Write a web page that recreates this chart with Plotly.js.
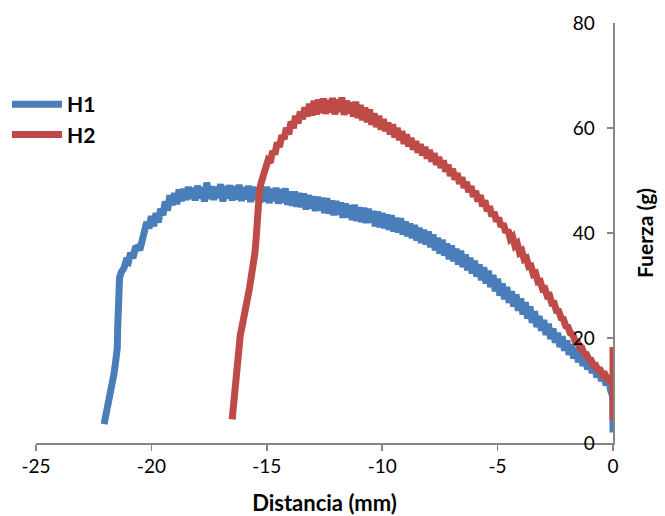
<!DOCTYPE html>
<html>
<head>
<meta charset="utf-8">
<script src="https://cdn.plot.ly/plotly-3.0.1.min.js"></script>
<style>html,body{margin:0;padding:0;background:#fff;}#chart{width:665px;height:516px;}</style>
</head>
<body>
<div id="chart"></div>
<script>
// ---- Data ----
const h1X = [-22.05,-21.98,-21.9,-21.82,-21.72,-21.62,-21.55,-21.48,-21.46,-21.44,-21.42,-21.38,-21.3,-21.2,-21.1,-21.0,-20.9,-20.8,-20.7,-20.6,-20.5,-20.4,-20.3,-20.2,-20.1,-20.0,-19.9,-19.8,-19.7,-19.6,-19.5,-19.4,-19.3,-19.2,-19.1,-19.0,-18.9,-18.8,-18.7,-18.6,-18.5,-18.4,-18.3,-18.2,-18.1,-18.0,-17.9,-17.8,-17.7,-17.6,-17.5,-17.4,-17.3,-17.2,-17.1,-17.0,-16.9,-16.8,-16.7,-16.6,-16.5,-16.4,-16.3,-16.2,-16.1,-16.0,-15.9,-15.8,-15.7,-15.6,-15.5,-15.4,-15.3,-15.2,-15.1,-15.0,-14.9,-14.8,-14.7,-14.6,-14.5,-14.4,-14.3,-14.2,-14.1,-14.0,-13.9,-13.8,-13.7,-13.6,-13.5,-13.4,-13.3,-13.2,-13.1,-13.0,-12.9,-12.8,-12.7,-12.6,-12.5,-12.4,-12.3,-12.2,-12.1,-12.0,-11.9,-11.8,-11.7,-11.6,-11.5,-11.4,-11.3,-11.2,-11.1,-11.0,-10.9,-10.8,-10.7,-10.6,-10.5,-10.4,-10.3,-10.2,-10.1,-10.0,-9.9,-9.8,-9.7,-9.6,-9.5,-9.4,-9.3,-9.2,-9.1,-9.0,-8.9,-8.8,-8.7,-8.6,-8.5,-8.4,-8.3,-8.2,-8.1,-8.0,-7.9,-7.8,-7.7,-7.6,-7.5,-7.4,-7.3,-7.2,-7.1,-7.0,-6.9,-6.8,-6.7,-6.6,-6.5,-6.4,-6.3,-6.2,-6.1,-6.0,-5.9,-5.8,-5.7,-5.6,-5.5,-5.4,-5.3,-5.2,-5.1,-5.0,-4.9,-4.8,-4.7,-4.6,-4.5,-4.4,-4.3,-4.2,-4.1,-4.0,-3.9,-3.8,-3.7,-3.6,-3.5,-3.4,-3.3,-3.2,-3.1,-3.0,-2.9,-2.8,-2.7,-2.6,-2.5,-2.4,-2.3,-2.2,-2.1,-2.0,-1.9,-1.8,-1.7,-1.6,-1.5,-1.4,-1.3,-1.2,-1.1,-1.0,-0.9,-0.8,-0.7,-0.6,-0.5,-0.4,-0.3,-0.2,-0.1,-0.02,0,0,0];
const h1Y = [3.6,5.0,6.8,8.5,10.5,13.2,15.5,18.0,22,26,29.5,31.5,32.6,33.2,34.6,34.4,36.2,35.2,37.1,37.3,36.8,38.9,40.5,42.1,40.9,43.2,41.3,43.8,42.0,44.6,43.4,46.0,44.3,47.2,45.3,47.6,45.5,48.3,46.1,48.4,46.3,48.8,46.5,48.6,46.2,49.0,46.6,48.7,46.0,49.6,46.5,48.9,46.3,48.8,46.7,49.3,46.0,48.9,46.6,49.1,46.2,48.9,46.4,49.2,46.1,48.7,46.4,49.0,45.9,48.8,46.3,48.6,45.8,48.7,46.0,48.8,45.7,48.4,46.1,48.6,45.6,48.3,45.8,48.5,45.4,47.9,45.2,47.9,45.0,47.6,44.9,47.5,44.5,47.2,44.7,47.0,44.2,46.9,44.3,46.7,43.8,46.6,43.7,46.2,43.4,46.1,43.5,45.8,42.9,45.6,43.0,45.3,42.5,45.4,42.3,44.9,42.1,44.8,41.9,44.6,42.0,44.2,41.3,44.1,41.1,43.8,40.9,43.5,40.6,43.4,40.3,42.9,40.1,42.8,39.7,42.2,39.4,41.8,39.0,41.5,38.6,41.0,38.1,40.6,37.8,40.3,37.3,39.7,36.7,39.1,36.1,38.7,35.7,38.0,35.0,37.6,34.6,37.0,34.0,36.6,33.5,35.9,32.9,35.3,32.3,34.7,31.7,34.0,31.0,33.5,30.4,32.8,29.7,32.0,28.9,31.3,28.1,30.4,27.4,29.7,26.7,28.9,26.0,28.3,25.2,27.5,24.5,26.8,23.7,26.0,22.9,25.1,22.1,24.2,21.4,23.4,20.6,22.7,19.8,21.8,19.1,21.0,18.3,20.3,17.6,19.5,16.8,18.8,16.1,18.0,15.4,17.2,14.7,16.5,14.0,15.7,13.3,15.0,12.5,14.2,11.8,13.3,11.0,12.2,10.0,9.0,7.5,5.0,2.0];

const h2X = [-16.5,-16.45,-16.4,-16.35,-16.3,-16.22,-16.15,-16.08,-16.0,-15.92,-15.85,-15.75,-15.68,-15.6,-15.52,-15.46,-15.42,-15.38,-15.32,-15.25,-15.15,-15.05,-14.95,-14.85,-14.75,-14.65,-14.55,-14.45,-14.35,-14.25,-14.15,-14.05,-13.95,-13.85,-13.75,-13.65,-13.55,-13.45,-13.35,-13.25,-13.15,-13.05,-12.95,-12.85,-12.75,-12.65,-12.55,-12.45,-12.35,-12.25,-12.15,-12.05,-11.95,-11.85,-11.75,-11.65,-11.55,-11.45,-11.35,-11.25,-11.15,-11.05,-10.95,-10.85,-10.75,-10.65,-10.55,-10.45,-10.35,-10.25,-10.15,-10.05,-9.95,-9.85,-9.75,-9.65,-9.55,-9.45,-9.35,-9.25,-9.15,-9.05,-8.95,-8.85,-8.75,-8.65,-8.55,-8.45,-8.35,-8.25,-8.15,-8.05,-7.95,-7.85,-7.75,-7.65,-7.55,-7.45,-7.35,-7.25,-7.15,-7.05,-6.95,-6.85,-6.75,-6.65,-6.55,-6.45,-6.35,-6.25,-6.15,-6.05,-5.95,-5.85,-5.75,-5.65,-5.55,-5.45,-5.35,-5.25,-5.15,-5.05,-4.95,-4.85,-4.75,-4.65,-4.55,-4.45,-4.35,-4.25,-4.15,-4.05,-3.95,-3.85,-3.75,-3.65,-3.55,-3.45,-3.35,-3.25,-3.15,-3.05,-2.95,-2.85,-2.75,-2.65,-2.55,-2.45,-2.35,-2.25,-2.15,-2.05,-1.95,-1.85,-1.75,-1.65,-1.55,-1.45,-1.35,-1.25,-1.15,-1.05,-0.95,-0.85,-0.75,-0.65,-0.55,-0.45,-0.35,-0.25,-0.15,-0.05,0,0,0];
const h2Y = [4.5,7,9.5,12.5,15.5,18.5,20.5,22.0,23.5,25.5,27.0,29.5,31.5,33.5,36.0,39.0,42.5,45.5,48.0,49.5,51.0,52.2,53.8,53.4,55.6,55.0,57.2,56.4,58.6,57.9,60.0,58.8,61.2,60.0,62.3,60.9,63.1,61.7,63.9,62.2,64.6,62.4,65.2,62.6,65.4,62.9,65.6,62.7,65.3,63.0,65.7,62.6,65.4,63.1,65.8,62.5,65.2,62.8,64.9,62.2,65.0,61.9,64.4,61.5,63.9,61.1,63.5,60.6,62.8,60.2,62.3,59.7,61.7,59.4,61.0,58.8,60.7,58.2,60.0,57.7,59.4,57.0,58.8,56.5,58.1,55.9,57.5,55.3,56.9,54.8,56.4,54.2,55.8,53.6,55.2,53.0,54.5,52.4,53.8,51.7,53.0,50.9,52.2,50.2,51.4,49.4,50.6,48.6,49.7,47.8,48.9,46.9,48.0,46.0,47.2,45.1,46.2,44.2,45.1,43.2,44.0,42.2,42.9,41.2,41.8,40.1,40.6,38.9,39.3,37.6,38.0,36.3,36.6,35.0,35.2,33.6,33.7,32.1,32.3,30.7,30.8,29.3,29.4,28.0,28.1,26.6,26.6,25.2,25.1,23.8,23.6,22.3,22.1,20.9,20.7,19.5,19.4,18.2,18.1,17.0,16.9,15.9,15.8,14.8,14.8,13.9,13.9,13.0,13.1,12.2,12.3,11.4,11.0,18.3,4.4];

const seriesNames = ['H1', 'H2'];
const xTickVals = [-25, -20, -15, -10, -5, 0];
const xTickText = ['-25', '-20', '-15', '-10', '-5', '0'];
const yTickVals = [0, 20, 40, 60, 80];
const yTickText = ['0', '20', '40', '60', '80'];
const xTitle = 'Distancia (mm)';
const yTitle = 'Fuerza (g)';

const FONT = 'Lato, "Open Sans", "DejaVu Sans", sans-serif';
const AXIS_COLOR = '#868686';

const traces = [
  {x: h1X, y: h1Y, name: '<b>' + seriesNames[0] + '</b>', type: 'scatter', mode: 'lines',
   line: {color: '#4A7EBB', width: 7}},
  {x: h2X, y: h2Y, name: '<b>' + seriesNames[1] + '</b>', type: 'scatter', mode: 'lines',
   line: {color: '#BE4B48', width: 7}}
];

const layout = {
  width: 665, height: 516,
  margin: {l: 36, r: 52, t: 23, b: 73, pad: 0, autoexpand: false},
  paper_bgcolor: '#ffffff', plot_bgcolor: '#ffffff',
  font: {family: FONT, color: '#000000', size: 19},
  showlegend: true,
  legend: {xref: 'container', yref: 'container', x: 0.0105, xanchor: 'left', y: 0.837, yanchor: 'top',
           font: {family: FONT, size: 21, color: '#000'}, bgcolor: 'rgba(0,0,0,0)',
           tracegroupgap: 0, itemwidth: 50},
  xaxis: {
    range: [-25, 0], tickmode: 'array', tickvals: xTickVals, ticktext: xTickText,
    ticks: 'outside', ticklen: 6, tickwidth: 1.5, tickcolor: AXIS_COLOR,
    showline: true, linecolor: AXIS_COLOR, linewidth: 1.5,
    showgrid: false, zeroline: false, automargin: false,
    tickfont: {family: FONT, size: 19, color: '#000'},
    title: {text: '<b>' + xTitle + '</b>', standoff: 23, font: {family: FONT, size: 22, color: '#000'}}
  },
  yaxis: {
    range: [0, 80], side: 'right', tickmode: 'array', tickvals: yTickVals, ticktext: yTickText,
    ticks: 'inside', ticklen: 6, tickwidth: 1.5, tickcolor: AXIS_COLOR,
    ticklabelposition: 'inside', ticklabeloverflow: 'allow', ticklabelstandoff: 13,
    showline: true, linecolor: AXIS_COLOR, linewidth: 1.5,
    showgrid: false, zeroline: false, automargin: false,
    tickfont: {family: FONT, size: 19, color: '#000'},
    title: {text: '<b>' + yTitle + '</b>', standoff: 44, font: {family: FONT, size: 21, color: '#000'}}
  }
};

Plotly.newPlot('chart', traces, layout, {displayModeBar: false, staticPlot: true});
</script>
</body>
</html>
